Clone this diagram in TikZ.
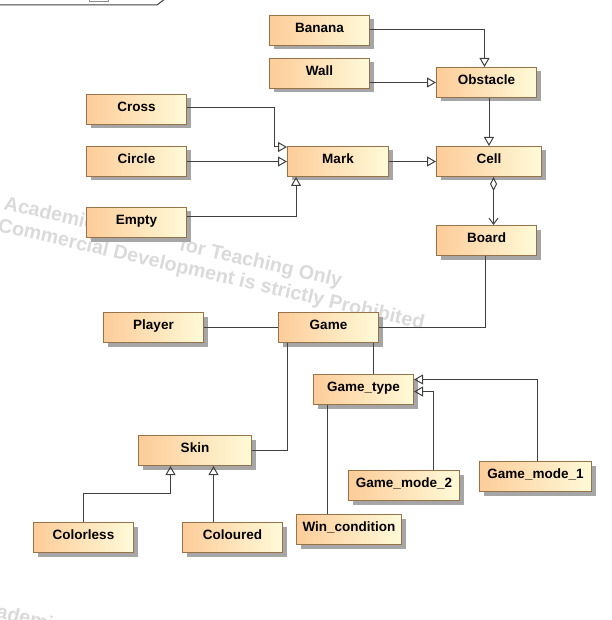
\documentclass[tikz,border=0pt]{standalone}
\usepackage{fontspec}
\setmainfont{Liberation Sans}
\usetikzlibrary{arrows.meta,shadows,calc}
\definecolor{boxl}{RGB}{253,204,153}
\definecolor{boxr}{RGB}{255,250,216}
\definecolor{boxb}{RGB}{150,115,75}
\definecolor{ln}{RGB}{64,64,64}
\definecolor{wm}{RGB}{218,218,218}
\tikzset{
 umlbox/.style={draw=boxb, line width=1pt, left color=boxl, right color=boxr,
   minimum height=30pt, inner sep=0pt, anchor=north west,
   font=\fontsize{13.5}{15}\selectfont\bfseries, text height=8pt, text depth=4.34pt,
   drop shadow={shadow xshift=4pt, shadow yshift=-4pt, fill=black!35, opacity=1}},
 conn/.style={draw=ln, line width=1pt},
 gen/.style={conn, -{Triangle[open, length=9pt, width=10pt]}},
 wmark/.style={text=wm, font=\fontsize{19.7}{22}\selectfont\bfseries, rotate=-13,
   anchor=base west, inner sep=0pt},
}
\begin{document}
\begin{tikzpicture}[x=1pt,y=-1pt]
\useasboundingbox (0,0) rectangle (611,620);
% frame fragment
\draw[ln, line width=1pt] (0,5) -- (157,5) -- (165,-1);
\draw[black!45, line width=0.8pt] (89,-3) rectangle (108,1.2);
% watermark
\node[wmark] (wm1) at (3,209) {Academic};
\node[wmark] (wm2) at (178.4,250) {for Teaching Only};
\node[wmark] (wm3) at (-3,231) {Commercial Development is strictly Prohibited};
\node[wmark] (wm4) at (-29,612) {Academic};
% nodes
\node[umlbox, minimum width=100pt] (ban) at (269,15) {Banana};
\node[umlbox, minimum width=100pt] (wall) at (269,58) {Wall};
\node[umlbox, minimum width=100pt] (obs) at (436,67) {Obstacle};
\node[umlbox, minimum width=100pt] (cross) at (86,94) {Cross};
\node[umlbox, minimum width=100pt] (circ) at (86,146) {Circle};
\node[umlbox, minimum width=101pt] (mark) at (287,146) {Mark};
\node[umlbox, minimum width=105pt] (cell) at (436,146) {Cell};
\node[umlbox, minimum width=100pt] (empty) at (86,207) {Empty};
\node[umlbox, minimum width=100pt] (board) at (436,225) {Board};
\node[umlbox, minimum width=100pt] (player) at (103,312) {Player};
\node[umlbox, minimum width=100pt] (game) at (278,312) {Game};
\node[umlbox, minimum width=100pt] (gt) at (313,374) {Game\_type};
\node[umlbox, minimum width=113pt] (skin) at (138,435) {Skin};
\node[umlbox, minimum width=111pt] (gm2) at (348,470) {Game\_mode\_2};
\node[umlbox, minimum width=112pt] (gm1) at (479,461) {Game\_mode\_1};
\node[umlbox, minimum width=105pt] (win) at (296,514) {Win\_condition};
\node[umlbox, minimum width=100pt] (colorless) at (33,522) {Colorless};
\node[umlbox, minimum width=100pt] (coloured) at (182,522) {Coloured};
% connectors
\draw[gen] ([yshift=1pt]ban.east) -| ([xshift=-2pt]obs.north);
\draw[gen] (obs.west -| wall.east) -- (obs.west);
\draw[gen] (cell.north |- obs.south) -- (cell.north);
\draw[gen] ([yshift=2pt]cross.east) -| ($(mark.north west)+(-13,1)$) -- ($(mark.north west)+(0,1)$);
\draw[gen] (circ.east) -- (mark.west |- circ.east);
\draw[gen] ([yshift=6pt]empty.east) -| ($(mark.south west)+(9,0)$);
\draw[gen] (mark.east) -- (cell.west);
\coordinate (cb) at ($(cell.south)+(4.5,0)$);
\draw[conn, {Diamond[open, length=14pt, width=7pt]}-{Straight Barb[length=6pt, width=9pt]}] (cb) -- (cb |- board.north);
\draw[conn] ([xshift=-1.5pt]board.south) |- (game.east);
\draw[conn] (player.east) -- (game.west);
\coordinate (gs) at ($(game.south east)+(-6,0)$);
\draw[conn] (gs) -- (gs |- gt.north);
\draw[conn] ($(game.south west)+(9,0)$) |- (skin.east);
\draw[gen] (colorless.north) |- ($(skin.south)+(-24.5,27)$) -- ($(skin.south)+(-24.5,0)$);
\coordinate (sk2) at ($(skin.south)+(18.5,0)$);
\draw[gen] (sk2 |- coloured.north) -- (sk2);
\draw[gen] ([xshift=2pt]gm1.north) |- ([yshift=10pt]gt.east);
\draw[gen] ($(gm2.north)+(29,0)$) |- ([yshift=-2pt]gt.east);
\coordinate (gw) at ($(gt.south west)+(14,0)$);
\draw[conn] (gw) -- (gw |- win.north);
\end{tikzpicture}
\end{document}
